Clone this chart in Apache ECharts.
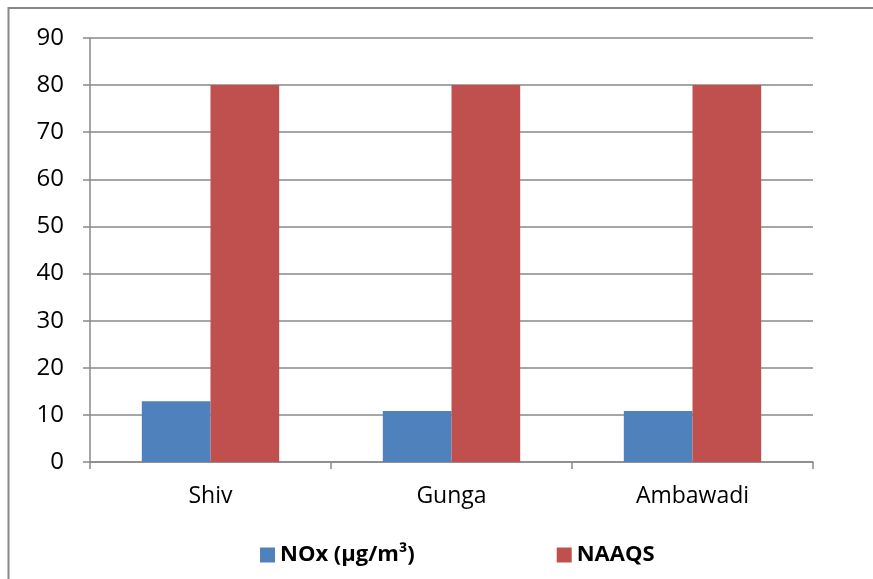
<!DOCTYPE html>
<html><head><meta charset="utf-8">
<script src="https://cdn.jsdelivr.net/npm/echarts@6/dist/echarts.min.js"></script>
<style>html,body{margin:0;padding:0;background:#fff}#c{width:873px;height:579px}</style>
</head><body><div id="c"></div>
<script>
const categories = ["Shiv", "Gunga", "Ambawadi"];
const noxValues = [12.9, 10.8, 10.8];
const naaqsValues = [80, 80, 80];
const seriesNames = ["NOx (µg/m³)", "NAAQS"];
const yTicks = { min: 0, max: 90, interval: 10 };

const chart = echarts.init(document.getElementById('c'));
const font = "'Open Sans', 'Liberation Sans', sans-serif";
const grey = '#898989';
chart.setOption({
  animation: false,
  graphic: [
    { type: 'polyline', shape: { points: [[8.5, 579], [8.5, 8], [873, 8]] }, style: { fill: 'none', stroke: grey, lineWidth: 2 }, silent: true }
  ],
  grid: { left: 90, right: 60, top: 38, bottom: 117 },
  legend: {
    top: 539, left: 255, itemGap: 142, itemWidth: 15, itemHeight: 15, icon: 'rect',
    textStyle: { fontFamily: font, fontWeight: 'bold', fontSize: 22, color: '#000' },
    data: seriesNames
  },
  xAxis: {
    type: 'category', data: categories,
    axisLine: { lineStyle: { color: grey, width: 1.5 } },
    axisTick: { show: true, length: 7, lineStyle: { color: grey, width: 1.5 } },
    axisLabel: { fontFamily: font, fontSize: 23, color: '#000', margin: 23 }
  },
  yAxis: {
    type: 'value', min: yTicks.min, max: yTicks.max, interval: yTicks.interval,
    axisLine: { show: true, lineStyle: { color: grey, width: 1.5 } },
    axisTick: { show: true, length: 7, lineStyle: { color: grey, width: 1.5 } },
    splitLine: { lineStyle: { color: grey, width: 1.5 } },
    axisLabel: { fontFamily: font, fontSize: 24, color: '#000', margin: 26 }
  },
  series: [
    { name: seriesNames[0], type: 'bar', data: noxValues, barGap: '0%', barCategoryGap: '43%', itemStyle: { color: '#4f81bd' } },
    { name: seriesNames[1], type: 'bar', data: naaqsValues, itemStyle: { color: '#c0504d' } }
  ]
});
</script></body></html>
